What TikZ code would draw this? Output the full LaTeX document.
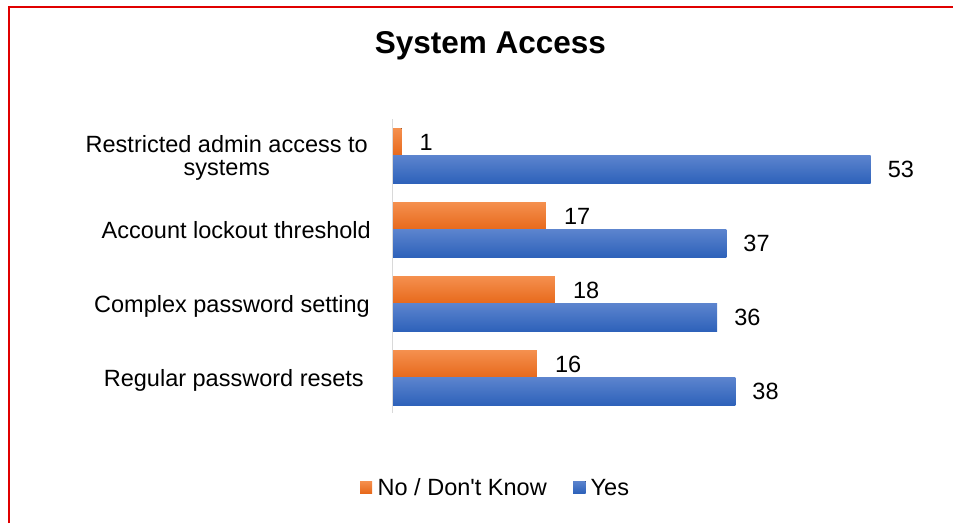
\documentclass[tikz,border=0pt]{standalone}
\usepackage{fontspec}
\setmainfont{Liberation Sans}
\newfontfamily\arialfont{Liberation Sans}
\definecolor{orTop}{HTML}{F5904F}
\definecolor{orBot}{HTML}{E7691B}
\definecolor{blTop}{HTML}{5C84CE}
\definecolor{blBot}{HTML}{2E62BA}
\definecolor{frameRed}{HTML}{E00000}
\definecolor{axisGray}{HTML}{D9D9D9}
\tikzset{
  lbl/.style={inner sep=0pt, font=\arialfont\fontsize{23.5}{23}\selectfont, text=black},
  orbar/.style={top color=orTop, bottom color=orBot, draw=none},
  blbar/.style={top color=blTop, bottom color=blBot, draw=none},
}
\begin{document}
\begin{tikzpicture}[x=1pt,y=-1pt]
\useasboundingbox (0,0) rectangle (963,523);
% frame
\draw[frameRed, line width=2pt] (8.5,523) -- (8.5,6.5) -- (953,6.5);
% title
\node[lbl, font=\arialfont\fontsize{31.5}{32}\selectfont\bfseries, anchor=base] (title) at (490.5,53.5) {System Access};
% bars
\foreach \i/\o/\b in {0/1/53, 1/17/37, 2/18/36, 3/16/38}{
  \pgfmathsetmacro{\T}{128+74*\i}
  \pgfmathsetmacro{\M}{\T+27.5}
  \pgfmathsetmacro{\B}{\T+55}
  \pgfmathsetmacro{\xo}{392.5+9.02*\o}
  \pgfmathsetmacro{\xb}{392.5+9.02*\b}
  \fill[orbar] (392.5,\T) rectangle (\xo,\M);
  \fill[blbar] (392.5,\M) rectangle (\xb,\B);
  \node[lbl, anchor=base west] (vo\i) at (\xo+18,\T+13.75+8.5) {\o};
  \node[lbl, anchor=base west] (vb\i) at (\xb+17,\M+13.75+8.5) {\b};
}
% axis
\draw[axisGray, line width=1.5pt] (392.5,119) -- (392.5,413);
% category labels
\node[lbl, anchor=base east] (c1a) at (368,152) {Restricted admin access to};
\node[lbl, anchor=base] (c1b) at ([yshift=-23pt]c1a.base) {systems};
\node[lbl, anchor=base east] (c2) at (371,238.5) {Account lockout threshold};
\node[lbl, anchor=base east] (c3) at (370,312.5) {Complex password setting};
\node[lbl, anchor=base east] (c4) at (364,386.5) {Regular password resets};
% legend
\fill[orbar] (360,481) rectangle (372,493);
\node[lbl, anchor=base west] (l1) at (377.5,495.5) {No / Don't Know};
\fill[blbar] (573,481) rectangle (585.5,493);
\node[lbl, anchor=base west] (l2) at (590.5,495.5) {Yes};
\end{tikzpicture}
\end{document}
